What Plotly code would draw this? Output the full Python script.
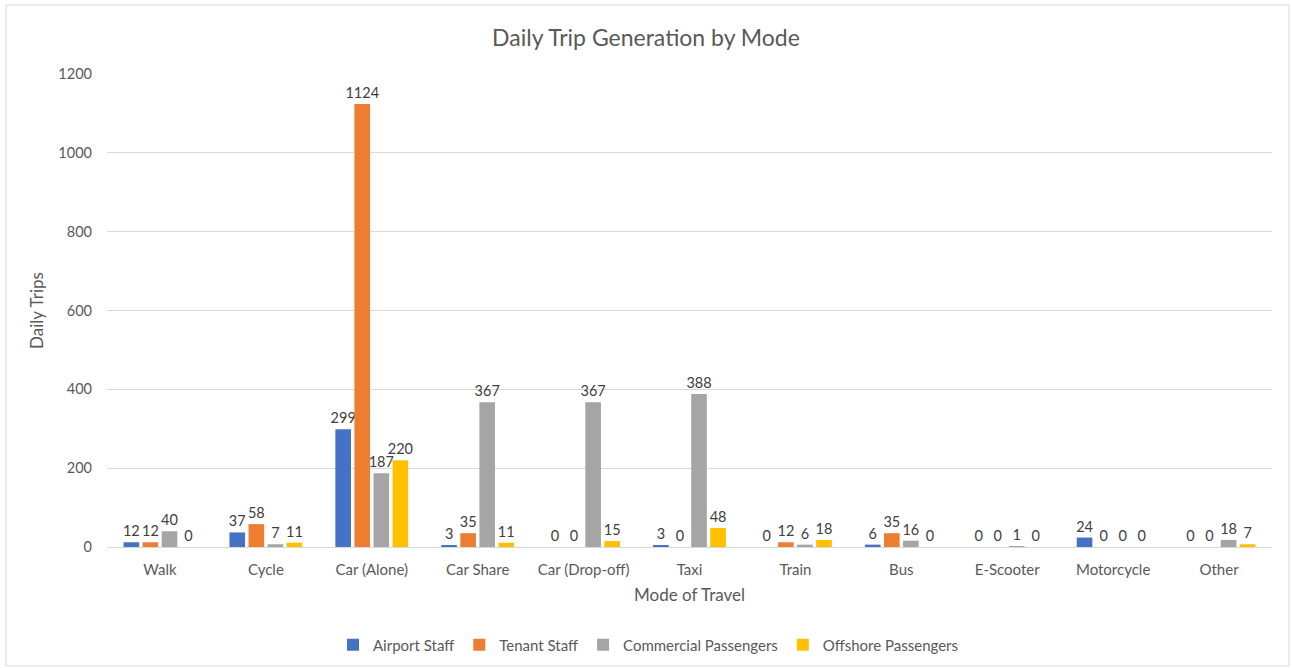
import plotly.graph_objects as go

# Travel modes along the category axis
modes = ["Walk", "Cycle", "Car (Alone)", "Car Share", "Car (Drop-off)", "Taxi",
         "Train", "Bus", "E-Scooter", "Motorcycle", "Other"]

# Daily trips per mode for each traveller group
airport_staff = [12, 37, 299, 3, 0, 3, 0, 6, 0, 24, 0]
tenant_staff = [12, 58, 1124, 35, 0, 0, 12, 35, 0, 0, 0]
commercial_passengers = [40, 7, 187, 367, 367, 388, 6, 16, 1, 0, 18]
offshore_passengers = [0, 11, 220, 11, 15, 48, 18, 0, 0, 0, 7]

y_ticks = [0, 200, 400, 600, 800, 1000, 1200]

series = [
    ("Airport Staff", airport_staff, "#4472C4"),
    ("Tenant Staff", tenant_staff, "#ED7D31"),
    ("Commercial Passengers", commercial_passengers, "#A5A5A5"),
    ("Offshore Passengers", offshore_passengers, "#FFC000"),
]

FONT = "Lato, 'Open Sans', sans-serif"

fig = go.Figure()
for name, vals, color in series:
    fig.add_trace(go.Bar(
        name=name, x=modes, y=vals,
        marker=dict(color=color, line=dict(width=0)),
        text=[str(v) for v in vals],
        textposition="outside",
        constraintext="none",
        cliponaxis=False,
        textfont=dict(family=FONT, size=14.5, color="#404040"),
    ))

W, H = 1292, 668
ml, mr, mt, mb = 107, 20, 74, 121
pw, ph = W - ml - mr, H - mt - mb

def px_x(p):
    return (p - ml) / pw

def px_y(p):
    return (H - mb - p) / ph

fig.update_layout(
    width=W, height=H,
    margin=dict(l=ml, r=mr, t=mt, b=mb, pad=0, autoexpand=False),
    paper_bgcolor="white", plot_bgcolor="white",
    barmode="group", bargap=0.28, bargroupgap=0.18,
    font=dict(family=FONT, color="#595959"),
    title=dict(text="Daily Trip Generation by Mode", x=0.5, xanchor="center",
               y=1 - 38 / H, yanchor="middle",
               font=dict(family=FONT, size=23, color="#595959")),
    legend=dict(orientation="h", x=px_x(333), xanchor="left",
                y=px_y(645), yanchor="middle",
                font=dict(family=FONT, size=15, color="#595959"),
                itemwidth=30, traceorder="normal"),
    xaxis=dict(
        title=dict(text="Mode of Travel", standoff=12,
                   font=dict(family=FONT, size=17, color="#595959")),
        tickfont=dict(family=FONT, size=15, color="#595959"),
        showline=True, linecolor="#D9D9D9", linewidth=1,
        ticks="", showgrid=False, ticklabelstandoff=9, automargin=False,
    ),
    yaxis=dict(
        title=dict(text="Daily Trips", standoff=10,
                   font=dict(family=FONT, size=17, color="#595959")),
        range=[0, 1200], tickvals=y_ticks,
        tickfont=dict(family=FONT, size=14.5, color="#595959"),
        showgrid=True, gridcolor="#D9D9D9", gridwidth=1,
        zeroline=False, showline=False, ticks="", ticklabelstandoff=14,
        automargin=False,
    ),
)

# Light frame round the whole chart
fig.add_shape(type="rect", xref="paper", yref="paper",
              x0=px_x(6), x1=px_x(1289), y0=px_y(666), y1=px_y(5),
              line=dict(color="#D9D9D9", width=1), layer="below")

fig.write_html("out.html")
